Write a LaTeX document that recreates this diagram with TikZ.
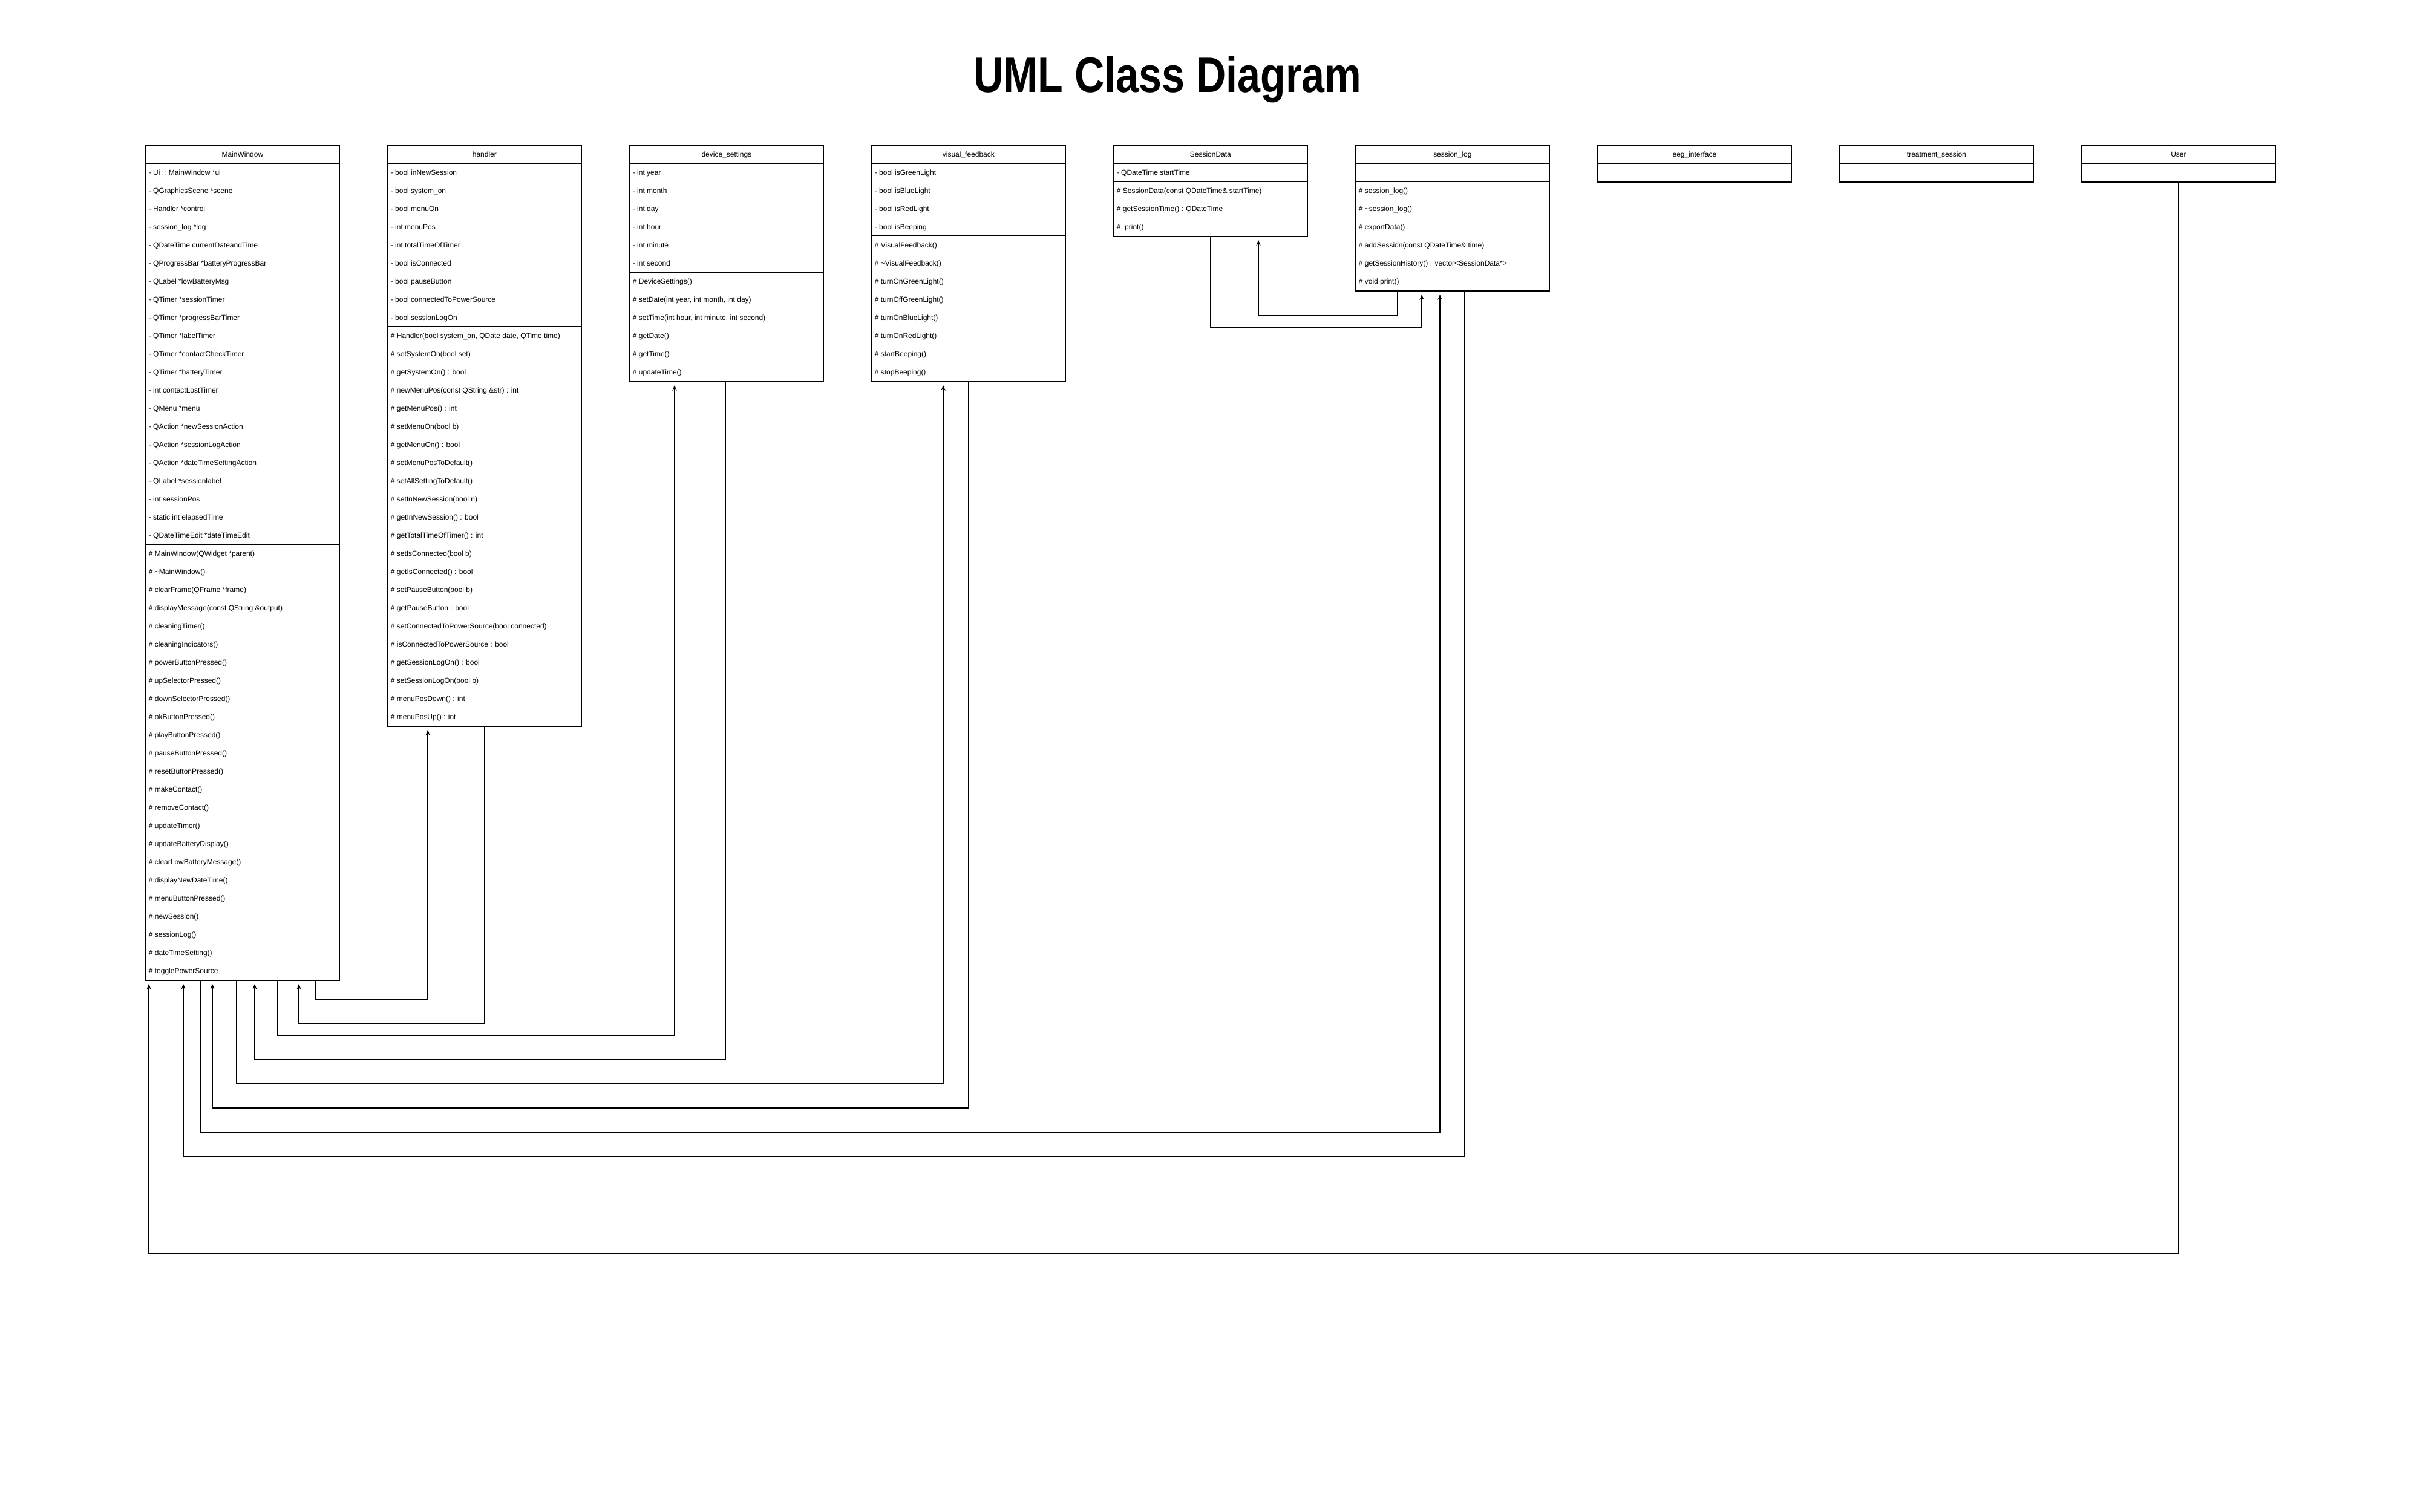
\documentclass[tikz,border=0pt]{standalone}
\usepackage{fontspec}
\setmainfont{Liberation Sans}
\usetikzlibrary{arrows.meta,calc}

\newcommand{\memberfont}{\fontsize{3.41}{4}\selectfont}
% class box: name, top left corner, title, rows above divider, all rows, members
\newcommand{\umlclass}[6]{%
  \node[box, minimum height=#5*0.3cm] (#1) at (#2) {};
  \node[member, anchor=base] (#1-head) at ($(#1.north)+(0,-0.192)$) {#3};
  \draw ($(#1.north west)+(0,-0.3)$) -- ($(#1.north east)+(0,-0.3)$);
  \draw ($(#1.north west)+(0,-0.3*#4)$) -- ($(#1.north east)+(0,-0.3*#4)$);
  \foreach \txt [count=\i] in {#6}
    \node[member] (#1-\i) at ($(#1.north west)+(0.05,-0.3*\i-0.192)$) {\txt};
}

\begin{document}
\begin{tikzpicture}[line width=0.5pt,
    box/.style={draw, minimum width=3.2cm, anchor=north west, inner sep=0pt},
    member/.style={anchor=base west, inner sep=0pt, font=\memberfont},
    assoc/.style={-{Stealth[length=0.09cm,width=0.07cm]}, shorten >=0.05cm},
  ]
  \useasboundingbox (0,0) rectangle (40,-25);
  % heading
  \node[anchor=base, inner sep=0pt, font=\bfseries\fontsize{23.4}{28}\selectfont] (heading)
    at (19.3,-1.53) {\scalebox{0.83}[1]{UML Class Diagram}};
  % classes
  \umlclass{mw}{2.4,-2.4}{MainWindow}{22}{46}{- Ui :: MainWindow *ui, - QGraphicsScene *scene,
    - Handler *control, - session\_log *log, - QDateTime currentDateandTime,
    - QProgressBar *batteryProgressBar, - QLabel *lowBatteryMsg, - QTimer *sessionTimer,
    - QTimer *progressBarTimer, - QTimer *labelTimer, - QTimer *contactCheckTimer,
    - QTimer *batteryTimer, - int contactLostTimer, - QMenu *menu, - QAction *newSessionAction,
    - QAction *sessionLogAction, - QAction *dateTimeSettingAction, - QLabel *sessionlabel,
    - int sessionPos, - static int elapsedTime, - QDateTimeEdit *dateTimeEdit,
    \# MainWindow(QWidget *parent), \# \textasciitilde MainWindow(), \# clearFrame(QFrame *frame),
    \# displayMessage(const QString \&output), \# cleaningTimer(), \# cleaningIndicators(),
    \# powerButtonPressed(), \# upSelectorPressed(), \# downSelectorPressed(), \# okButtonPressed(),
    \# playButtonPressed(), \# pauseButtonPressed(), \# resetButtonPressed(), \# makeContact(),
    \# removeContact(), \# updateTimer(), \# updateBatteryDisplay(), \# clearLowBatteryMessage(),
    \# displayNewDateTime(), \# menuButtonPressed(), \# newSession(), \# sessionLog(),
    \# dateTimeSetting(), \# togglePowerSource}
  \umlclass{hd}{6.4,-2.4}{handler}{10}{32}{- bool inNewSession, - bool system\_on, - bool menuOn,
    - int menuPos, - int totalTimeOfTimer, - bool isConnected, - bool pauseButton,
    - bool connectedToPowerSource, - bool sessionLogOn,
    {\# Handler(bool system\_on, QDate date, QTime time)}, \# setSystemOn(bool set),
    \# getSystemOn() : bool, \# newMenuPos(const QString \&str) : int, \# getMenuPos() : int,
    \# setMenuOn(bool b), \# getMenuOn() : bool, \# setMenuPosToDefault(),
    \# setAllSettingToDefault(), \# setInNewSession(bool n), \# getInNewSession() : bool,
    \# getTotalTimeOfTimer() : int, \# setIsConnected(bool b), \# getIsConnected() : bool,
    \# setPauseButton(bool b), \# getPauseButton : bool,
    \# setConnectedToPowerSource(bool connected), \# isConnectedToPowerSource : bool,
    \# getSessionLogOn() : bool, \# setSessionLogOn(bool b), \# menuPosDown() : int,
    \# menuPosUp() : int}
  \umlclass{ds}{10.4,-2.4}{device\_settings}{7}{13}{- int year, - int month, - int day,
    - int hour, - int minute, - int second, \# DeviceSettings(),
    {\# setDate(int year, int month, int day)}, {\# setTime(int hour, int minute, int second)},
    \# getDate(), \# getTime(), \# updateTime()}
  \umlclass{vf}{14.4,-2.4}{visual\_feedback}{5}{13}{- bool isGreenLight, - bool isBlueLight,
    - bool isRedLight, - bool isBeeping, \# VisualFeedback(), \# \textasciitilde VisualFeedback(),
    \# turnOnGreenLight(), \# turnOffGreenLight(), \# turnOnBlueLight(), \# turnOnRedLight(),
    \# startBeeping(), \# stopBeeping()}
  \umlclass{sd}{18.4,-2.4}{SessionData}{2}{5}{- QDateTime startTime,
    \# SessionData(const QDateTime\& startTime), \# getSessionTime() : QDateTime, \#\ \ print()}
  \umlclass{sl}{22.4,-2.4}{session\_log}{2}{8}{{}, \# session\_log(),
    \# \textasciitilde session\_log(), \# exportData(), \# addSession(const QDateTime\& time),
    \# getSessionHistory() : vector<SessionData*>, \# void print()}
  \umlclass{eeg}{26.4,-2.4}{eeg\_interface}{1}{2}{{}}
  \umlclass{ts}{30.4,-2.4}{treatment\_session}{1}{2}{{}}
  \umlclass{usr}{34.4,-2.4}{User}{1}{2}{{}}
  % associations
  \draw[assoc] ([xshift=2.81cm]mw.south west) -- ++(0,-0.3) -| ([xshift=0.67cm]hd.south west);
  \draw[assoc] ([xshift=1.61cm]hd.south west) -- ++(0,-4.9) -| ([xshift=2.54cm]mw.south west);
  \draw[assoc] ([xshift=2.19cm]mw.south west) -- ++(0,-0.9) -| ([xshift=0.75cm]ds.south west);
  \draw[assoc] ([xshift=1.59cm]ds.south west) -- ++(0,-11.2) -| ([xshift=1.81cm]mw.south west);
  \draw[assoc] ([xshift=1.51cm]mw.south west) -- ++(0,-1.7) -| ([xshift=1.19cm]vf.south west);
  \draw[assoc] (vf.south) -- ++(0,-12.0) -| ([xshift=1.11cm]mw.south west);
  \draw[assoc] ([xshift=0.91cm]mw.south west) -- ++(0,-2.5) -| ([xshift=1.40cm]sl.south west);
  \draw[assoc] ([xshift=1.81cm]sl.south west) -- ++(0,-14.3) -| ([xshift=0.63cm]mw.south west);
  \draw[assoc] (usr.south) -- ++(0,-17.7) -| ([xshift=0.06cm]mw.south west);
  \draw[assoc] ([xshift=0.70cm]sl.south west) -- ++(0,-0.4) -| ([xshift=2.40cm]sd.south west);
  \draw[assoc] (sd.south) -- ++(0,-1.5) -| ([xshift=1.10cm]sl.south west);
\end{tikzpicture}
\end{document}
